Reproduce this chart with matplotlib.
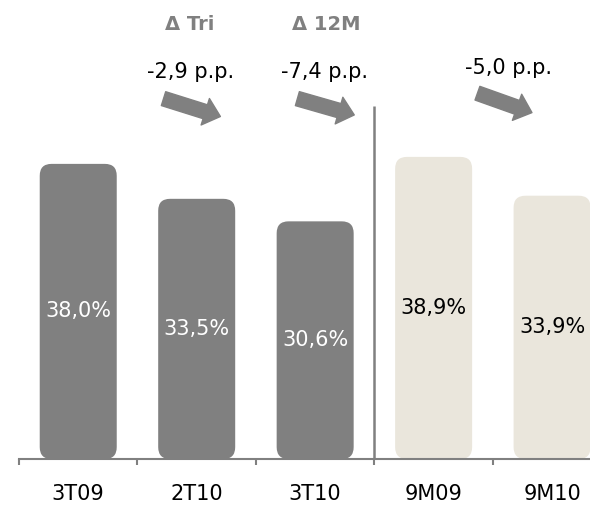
import matplotlib
matplotlib.use('Agg')
import matplotlib.pyplot as plt
from matplotlib.patches import FancyBboxPatch

# dados do grafico
categorias = ['3T09', '2T10', '3T10', '9M09', '9M10']
valores = [38.0, 33.5, 30.6, 38.9, 33.9]
rotulos = ['38,0%', '33,5%', '30,6%', '38,9%', '33,9%']
cores = ['#808080', '#808080', '#808080', '#EAE6DC', '#EAE6DC']
cor_texto = ['white', 'white', 'white', 'black', 'black']

variacoes = ['-2,9 p.p.', '-7,4 p.p.', '-5,0 p.p.']
titulos = ['\u0394 Tri', '\u0394 12M']

cinza = '#808080'

fig = plt.figure(figsize=(5.9, 5.07), dpi=100)
ax = fig.add_axes([19 / 590, 48 / 507, 571 / 590, 459 / 507])
ax.set_xlim(-0.5, 4.32)
ax.set_ylim(0, 59.1)

barras = ax.bar(range(len(categorias)), valores, width=0.65, color=cores)

# troca as barras por retangulos arredondados
aspecto = (571 / 4.82) / (459 / 59.1)
for b, cor in zip(barras, cores):
    x, y = b.get_xy()
    caixa = FancyBboxPatch((x, y), b.get_width(), b.get_height(),
                           boxstyle='round,pad=0,rounding_size=0.1',
                           mutation_aspect=aspecto, facecolor=cor,
                           edgecolor='none', zorder=2)
    ax.add_patch(caixa)
    b.remove()

for i, (v, r, c) in enumerate(zip(valores, rotulos, cor_texto)):
    ax.text(i, v / 2, r, ha='center', va='center', fontsize=15, color=c, zorder=3)

# linha vertical separando trimestre e acumulado
ax.vlines(2.5, 0, 45.5, color=cinza, linewidth=1.8, zorder=3)

# eixos
for s in ['top', 'left', 'right']:
    ax.spines[s].set_visible(False)
ax.spines['bottom'].set_color(cinza)
ax.spines['bottom'].set_linewidth(1.5)
ax.spines['bottom'].set_zorder(4)
ax.set_yticks([])
ax.set_xticks(range(len(categorias)))
ax.set_xticklabels(categorias, fontsize=15)
ax.set_xticks([-0.5, 0.5, 1.5, 2.5, 3.5], minor=True)
ax.tick_params(axis='x', which='major', length=0, pad=18)
ax.tick_params(axis='x', which='minor', length=4.5, width=1.5, color=cinza)

# titulos e variacoes
ax.text(0.94, 56.0, titulos[0], ha='center', va='center', fontsize=14,
        color=cinza, fontweight='bold')
ax.text(2.09, 56.0, titulos[1], ha='center', va='center', fontsize=14,
        color=cinza, fontweight='bold')
ax.text(0.95, 49.8, variacoes[0], ha='center', va='center', fontsize=15)
ax.text(2.08, 49.8, variacoes[1], ha='center', va='center', fontsize=15)
ax.text(3.63, 50.3, variacoes[2], ha='center', va='center', fontsize=15)

setas = [((0.72, 46.4), (1.20, 44.1)),
         ((1.85, 46.4), (2.33, 44.3)),
         ((3.37, 47.1), (3.83, 44.6))]
for inicio, fim in setas:
    ax.annotate('', xy=fim, xytext=inicio,
                arrowprops=dict(arrowstyle='simple,head_length=0.6,head_width=1.05,tail_width=0.55',
                                mutation_scale=19, color=cinza, shrinkA=0, shrinkB=0))

fig.savefig('out.png', dpi=100)
